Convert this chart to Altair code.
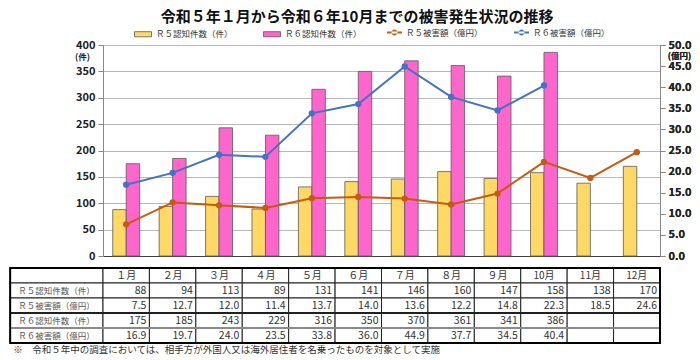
import altair as alt
import pandas as pd

FONT = "Noto Sans CJK JP"

months = ["１月", "２月", "３月", "４月", "５月", "６月", "７月", "８月", "９月", "10月", "11月", "12月"]
r5_count = [88, 94, 113, 89, 131, 141, 146, 160, 147, 158, 138, 170]
r5_damage = [7.5, 12.7, 12.0, 11.4, 13.7, 14.0, 13.6, 12.2, 14.8, 22.3, 18.5, 24.6]
r6_count = [175, 185, 243, 229, 316, 350, 370, 361, 341, 386]
r6_damage = [16.9, 19.7, 24.0, 23.5, 33.8, 36.0, 44.9, 37.7, 34.5, 40.4]

bar_series = ["Ｒ５認知件数（件）", "Ｒ６認知件数（件）"]
bar_colors = ["#FFD966", "#FF66CC"]
line_series = ["Ｒ５被害額（億円）", "Ｒ６被害額（億円）"]
line_colors = ["#C55A11", "#4472C4"]
row_labels = ["Ｒ５認知件数（件）", "Ｒ５被害額（億円）", "Ｒ６認知件数（件）", "Ｒ６被害額（億円）"]
title_text = "令和５年１月から令和６年10月までの被害発生状況の推移"
note_text = "※　令和５年中の調査においては、相手方が外国人又は海外居住者を名乗ったものを対象として実施"

# ---------- data frames ----------
bar_rows = []
for m, v in zip(months, r5_count):
    bar_rows.append({"month": m, "series": bar_series[0], "value": v})
for m, v in zip(months, r6_count):
    bar_rows.append({"month": m, "series": bar_series[1], "value": v})
bar_df = pd.DataFrame(bar_rows)

line_rows = []
for m, v in zip(months, r5_damage):
    line_rows.append({"month": m, "series": line_series[0], "value": v})
for m, v in zip(months, r6_damage):
    line_rows.append({"month": m, "series": line_series[1], "value": v})
line_df = pd.DataFrame(line_rows)

bar_legend = alt.Legend(
    orient="none", legendX=31, legendY=-20, direction="horizontal", columns=2,
    title=None, labelFontSize=8.5, labelFont=FONT, labelColor="#333333",
    symbolSize=289, labelOffset=4, columnPadding=28,
    symbolType="M-1,-0.3H1V0.3H-1Z", symbolStrokeColor="#595959", symbolStrokeWidth=0.8,
    symbolOpacity=1)
line_legend = alt.Legend(
    orient="none", legendX=284, legendY=-20, direction="horizontal", columns=2,
    title=None, labelFontSize=8.5, labelFont=FONT, labelColor="#333333",
    symbolSize=225, labelOffset=4, columnPadding=31,
    symbolType="M-1,-0.13H1V0.13H-1Z M-0.4,0A0.4,0.4,0,1,0,0.4,0A0.4,0.4,0,1,0,-0.4,0Z",
    symbolStrokeWidth=0, symbolOpacity=1)

x_enc = alt.X("month:N", sort=months,
              scale=alt.Scale(domain=months, paddingInner=0.42, paddingOuter=0.21),
              axis=alt.Axis(labels=False, ticks=False, title=None, grid=False,
                            domainColor="#404040", domainWidth=1))

bars = alt.Chart(bar_df).mark_bar(stroke="#595959", strokeWidth=0.8).encode(
    x=x_enc,
    xOffset=alt.XOffset("series:N", sort=bar_series),
    y=alt.Y("value:Q", scale=alt.Scale(domain=[0, 400]),
            axis=alt.Axis(values=list(range(0, 401, 50)), title="(件)", titleAngle=0,
                          titleX=-21, titleY=11, titleAlign="center", titleBaseline="middle",
                          titleFontSize=8.5, titleFontWeight="bold", titleColor="#222222",
                          labelFontSize=11, labelFontWeight="bold", labelColor="#222222",
                          tickColor="#888888", domainColor="#888888", tickSize=5, labelPadding=3,
                          grid=True, gridColor="#b8b8b8", gridWidth=1.2)),
    fill=alt.Fill("series:N", scale=alt.Scale(domain=bar_series, range=bar_colors),
                  legend=bar_legend),
)

line_base = alt.Chart(line_df).encode(
    x=x_enc,
    y=alt.Y("value:Q", scale=alt.Scale(domain=[0, 50]),
            axis=alt.Axis(orient="right", values=[v * 5 for v in range(11)], format=".1f",
                          title="(億円)", titleAngle=0, titleX=19, titleY=10.5, titleAlign="center",
                          titleBaseline="middle", titleFontSize=8.5, titleFontWeight="bold",
                          titleColor="#222222",
                          labelFontSize=11, labelFontWeight="bold", labelColor="#222222",
                          tickColor="#888888", domainColor="#888888", tickSize=5, labelPadding=3,
                          grid=False)),
    color=alt.Color("series:N", scale=alt.Scale(domain=line_series, range=line_colors),
                    legend=line_legend),
)
points = line_base.mark_point(filled=True, size=40, opacity=1)
lines = line_base.mark_line(strokeWidth=2)

top = alt.layer(bars, points, lines).resolve_scale(y="independent").properties(
    width=557, height=211)

# ---------- table ----------
cell_rows = []
for r in range(5):
    cell_rows.append({"x0": -2.0, "x1": 0.0, "y0": r, "y1": r + 1})
    for i in range(12):
        cell_rows.append({"x0": float(i), "x1": float(i + 1), "y0": r, "y1": r + 1})
cell_df = pd.DataFrame(cell_rows)

head_df = pd.DataFrame({"xc": [i + 0.5 for i in range(12)], "yc": [0.5] * 12, "t": months})
lab_df = pd.DataFrame({"xc": [-1.0] * 4, "yc": [r + 1.5 for r in range(4)], "t": row_labels})

val_rows = []
table_values = [
    [str(v) for v in r5_count],
    [f"{v:.1f}" for v in r5_damage],
    [str(v) for v in r6_count],
    [f"{v:.1f}" for v in r6_damage],
]
for r, vals in enumerate(table_values):
    for i, t in enumerate(vals):
        val_rows.append({"xr": float(i + 1), "yc": r + 1.5, "t": t})
val_df = pd.DataFrame(val_rows)

sep_df = pd.DataFrame({"x0": [-2.0, -2.0], "x1": [12.0, 12.0], "yy": [3.0, 4.0],
                       "c": ["#202020", "#8a8a8a"]})
outer_df = pd.DataFrame({"x0": [-2.0], "x1": [12.0], "y0": [0.0], "y1": [5.0]})
note_df = pd.DataFrame({"xn": [-2.0], "yn": [5.45], "t": [note_text]})

xs = alt.Scale(domain=[0, 12], nice=False, zero=False)
ys = alt.Scale(domain=[0, 5], nice=False, zero=False, reverse=True)

cells = alt.Chart(cell_df).mark_rect(fill="white", stroke="#202020", strokeWidth=1).encode(
    x=alt.X("x0:Q", scale=xs, axis=None), x2="x1:Q",
    y=alt.Y("y0:Q", scale=ys, axis=None), y2="y1:Q")
seps = alt.Chart(sep_df).mark_rule(strokeWidth=2).encode(
    x=alt.X("x0:Q", scale=xs, axis=None), x2="x1:Q",
    y=alt.Y("yy:Q", scale=ys, axis=None),
    color=alt.Color("c:N", scale=None, legend=None))
outer = alt.Chart(outer_df).mark_rect(fillOpacity=0, stroke="#000000", strokeWidth=2).encode(
    x=alt.X("x0:Q", scale=xs, axis=None), x2="x1:Q",
    y=alt.Y("y0:Q", scale=ys, axis=None), y2="y1:Q")
heads = alt.Chart(head_df).mark_text(font=FONT, fontSize=10, color="#333333", align="center",
                                     baseline="middle").encode(
    x=alt.X("xc:Q", scale=xs, axis=None), y=alt.Y("yc:Q", scale=ys, axis=None), text="t:N")
labs = alt.Chart(lab_df).mark_text(font=FONT, fontSize=8.5, color="#555555", align="center",
                                   baseline="middle").encode(
    x=alt.X("xc:Q", scale=xs, axis=None), y=alt.Y("yc:Q", scale=ys, axis=None), text="t:N")
vals = alt.Chart(val_df).mark_text(font=FONT, fontSize=10.5, color="#333333", align="right",
                                   baseline="middle", dx=-3).encode(
    x=alt.X("xr:Q", scale=xs, axis=None), y=alt.Y("yc:Q", scale=ys, axis=None), text="t:N")
note = alt.Chart(note_df).mark_text(font=FONT, fontSize=9.5, color="#333333", align="left",
                                    baseline="middle", dx=3).encode(
    x=alt.X("xn:Q", scale=xs, axis=None), y=alt.Y("yn:Q", scale=ys, axis=None), text="t:N")

table = alt.layer(cells, seps, outer, heads, labs, vals, note).properties(width=557, height=75)

chart = alt.vconcat(top, table, spacing=4).properties(
    padding={"top": 2, "left": 0, "right": 0, "bottom": 0},
    title=alt.TitleParams(title_text, fontSize=15, fontWeight="bold", font=FONT,
                          color="#111111", anchor="middle", offset=0, dx=7)
).configure(font=FONT).configure_view(stroke="transparent")

chart.save("out.html", embed_options={"renderer": "svg", "actions": False})
